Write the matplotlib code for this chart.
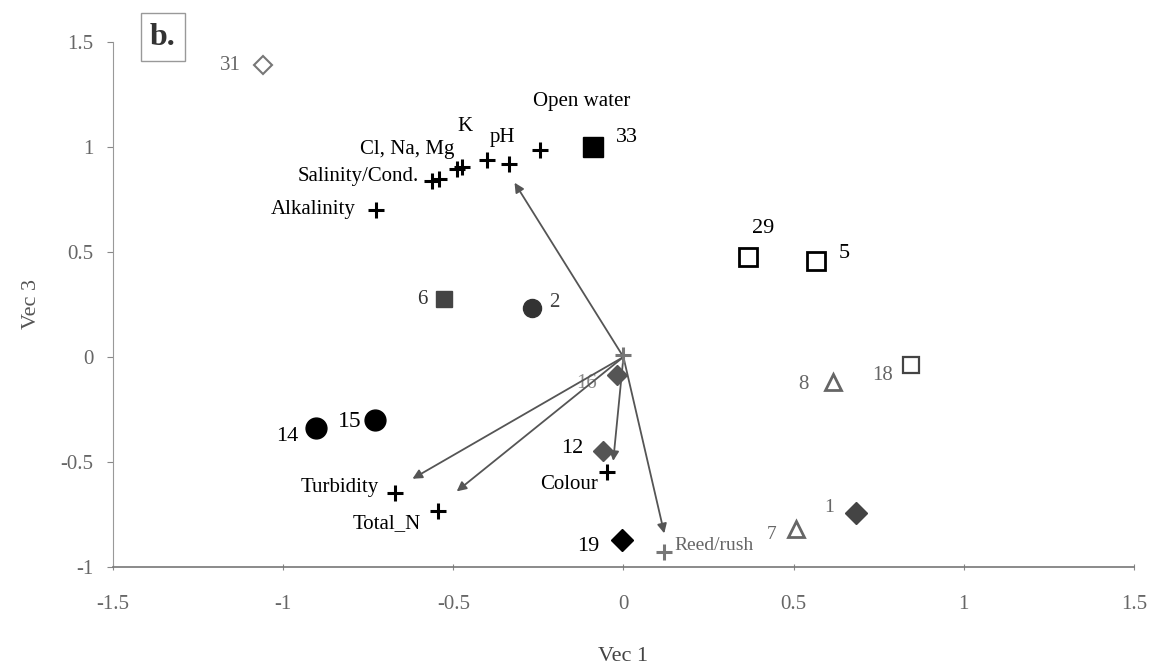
import matplotlib
matplotlib.use("Agg")
import matplotlib.pyplot as plt

plt.rcParams['font.family'] = ['Liberation Serif', 'DejaVu Serif']

# Site scores (Vec 1, Vec 3)
sites = ['31', '33', '29', '5', '6', '2', '18', '8', '16', '14', '15', '12', '19', '7', '1']
site_x = [-1.06, -0.09, 0.366, 0.566, -0.528, -0.268, 0.845, 0.615, -0.02, -0.905, -0.73, -0.06, -0.005, 0.506, 0.683]
site_y = [1.39, 1.0, 0.475, 0.455, 0.274, 0.235, -0.04, -0.12, -0.087, -0.34, -0.30, -0.45, -0.87, -0.82, -0.745]

# Environmental variables plotted as crosses
env_names = ['Open water', 'pH', '', 'K', 'Cl, Na, Mg', '', 'Salinity/Cond.', 'Alkalinity',
             'Turbidity', 'Total_N', 'Colour', 'Reed/rush', '']
env_x = [-0.245, -0.335, -0.40, -0.475, -0.49, -0.543, -0.563, -0.726, -0.67, -0.545, -0.047, 0.12, 0.0]
env_y = [0.985, 0.918, 0.937, 0.905, 0.895, 0.85, 0.84, 0.70, -0.65, -0.735, -0.55, -0.93, 0.01]

# Biplot vectors from the origin
vec_names = ['Open water', 'Turbidity', 'Total_N', 'Colour', 'Reed/rush']
vec_x = [-0.32, -0.62, -0.49, -0.03, 0.12]
vec_y = [0.83, -0.58, -0.64, -0.495, -0.84]

# marker styling for each site
site_style = {
    '31': dict(marker='D', ms=9, mfc='white', mec='#777777', mew=1.5),
    '33': dict(marker='s', ms=14, mfc='black', mec='black', mew=1),
    '29': dict(marker='s', ms=13, mfc='white', mec='black', mew=2),
    '5': dict(marker='s', ms=13, mfc='white', mec='black', mew=2),
    '6': dict(marker='s', ms=12, mfc='#444444', mec='#444444', mew=1),
    '2': dict(marker='o', ms=13, mfc='#333333', mec='#333333', mew=1),
    '18': dict(marker='s', ms=12, mfc='white', mec='#444444', mew=1.6),
    '8': dict(marker='^', ms=12, mfc='white', mec='#666666', mew=2),
    '16': dict(marker='D', ms=10, mfc='#555555', mec='#555555', mew=1),
    '14': dict(marker='o', ms=15, mfc='black', mec='black', mew=1),
    '15': dict(marker='o', ms=15, mfc='black', mec='black', mew=1),
    '12': dict(marker='D', ms=10, mfc='#555555', mec='#555555', mew=1),
    '19': dict(marker='D', ms=11, mfc='black', mec='black', mew=1),
    '7': dict(marker='^', ms=12, mfc='white', mec='#666666', mew=2),
    '1': dict(marker='D', ms=11, mfc='#444444', mec='#444444', mew=1),
}
# label offsets (points), alignment, colour, size
site_label = {
    '31': ((-16, 0), 'right', '#666666', 15),
    '33': ((17, 7), 'left', 'black', 16),
    '29': ((11, 21), 'center', 'black', 16),
    '5': ((16, 6), 'left', 'black', 16),
    '6': ((-12, 0), 'right', '#333333', 15),
    '2': ((12, 4), 'left', '#444444', 15),
    '18': ((-13, -7), 'right', '#666666', 15),
    '8': ((-17, -2), 'right', '#666666', 15),
    '16': ((-14, -6), 'right', '#888888', 15),
    '14': ((-12, -6), 'right', 'black', 16),
    '15': ((-10, -1), 'right', 'black', 17),
    '12': ((-14, 2), 'right', 'black', 16),
    '19': ((-16, -5), 'right', 'black', 16),
    '7': ((-14, -4), 'right', '#666666', 14),
    '1': ((-16, 4), 'right', '#666666', 14),
}
env_label = {
    'Open water': ((30, 35), 'center', 'black', 15),
    'pH': ((-5, 19), 'center', 'black', 15),
    'K': ((2, 29), 'center', 'black', 15),
    'Cl, Na, Mg': ((-2, 14), 'right', 'black', 15),
    'Salinity/Cond.': ((-9, 3), 'right', 'black', 15),
    'Alkalinity': ((-15, 0), 'right', 'black', 15),
    'Turbidity': ((-12, 4), 'right', 'black', 15),
    'Total_N': ((-12, -9), 'right', 'black', 15),
    'Colour': ((-7, -9), 'right', 'black', 15),
    'Reed/rush': ((7, 5), 'left', '#666666', 14),
}

fig = plt.figure(figsize=(11.56, 6.67), dpi=100)
ax = fig.add_axes([0.0978, 0.150, 0.883, 0.787])

# vectors
for name, vx, vy in zip(vec_names, vec_x, vec_y):
    ax.annotate('', xy=(vx, vy), xytext=(0, 0),
                arrowprops=dict(arrowstyle='-|>', color='#555555', lw=1.3,
                                mutation_scale=14, shrinkA=0, shrinkB=0))

# environmental crosses
for i, (name, x, y) in enumerate(zip(env_names, env_x, env_y)):
    c = '#777777' if i == len(env_x) - 1 or name == 'Reed/rush' else 'black'
    ax.plot(x, y, marker='+', ms=11, mew=2.2, color=c, linestyle='none', zorder=4)
    if name in env_label:
        off, ha, col, fs = env_label[name]
        ax.annotate(name, (x, y), xytext=off, textcoords='offset points',
                    ha=ha, va='center', color=col, fontsize=fs)

# sites
for s, x, y in zip(sites, site_x, site_y):
    ax.plot(x, y, linestyle='none', zorder=3, **site_style[s])
    off, ha, col, fs = site_label[s]
    ax.annotate(s, (x, y), xytext=off, textcoords='offset points',
                ha=ha, va='center', color=col, fontsize=fs, zorder=2)

ax.set_xlim(-1.5, 1.5)
ax.set_ylim(-1, 1.5)
ax.set_xticks([-1.5, -1, -0.5, 0, 0.5, 1, 1.5])
ax.set_xticklabels(['-1.5', '-1', '-0.5', '0', '0.5', '1', '1.5'])
ax.set_yticks([-1, -0.5, 0, 0.5, 1, 1.5])
ax.set_yticklabels(['-1', '-0.5', '0', '0.5', '1', '1.5'])

for side in ['top', 'right']:
    ax.spines[side].set_visible(False)
ax.spines['left'].set_color('#999999')
ax.spines['bottom'].set_color('#777777')
ax.spines['bottom'].set_linewidth(1.2)
ax.tick_params(axis='both', colors='#888888', labelcolor='#666666', labelsize=15, length=4)
ax.tick_params(axis='x', direction='inout', pad=18)
ax.tick_params(axis='y', pad=10)

ax.set_xlabel('Vec 1', fontsize=16, color='#444444', labelpad=24)
ax.set_ylabel('Vec 3', fontsize=16, color='#555555', labelpad=14)

fig.text(0.141, 0.944, 'b.', fontsize=23, fontweight='bold', color='#333333',
         ha='center', va='center',
         bbox=dict(boxstyle='square,pad=0.3', fc='white', ec='#999999', lw=1))

fig.savefig('out.png', dpi=100)
